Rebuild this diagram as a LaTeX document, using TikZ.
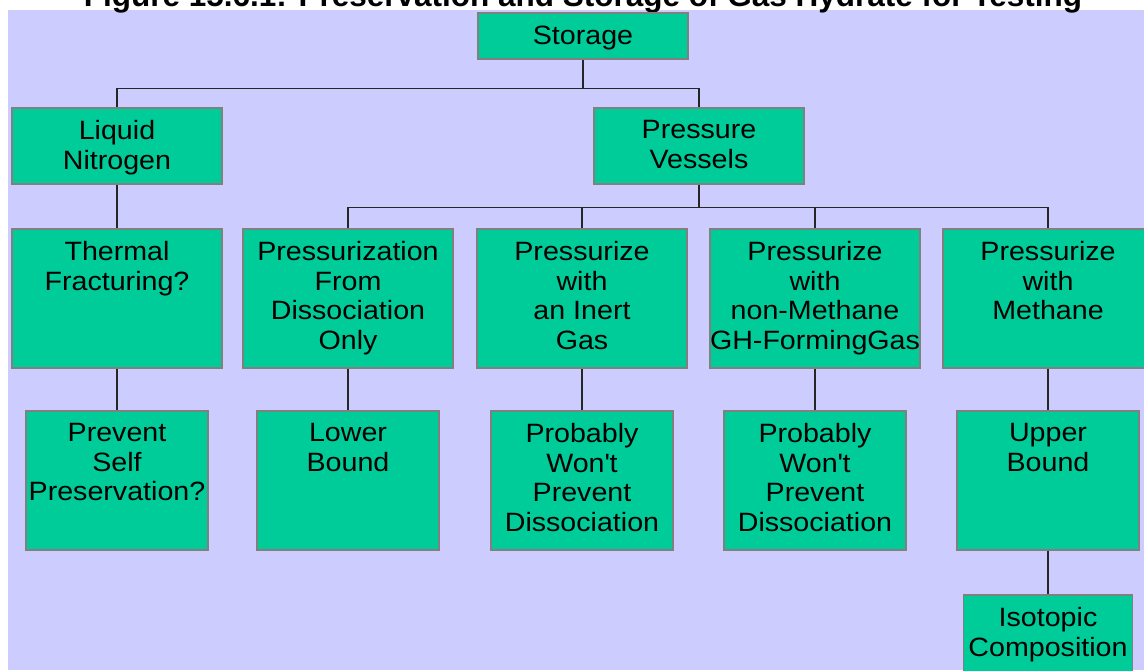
\documentclass[tikz,border=0pt]{standalone}
\usepackage{fontspec}
\setmainfont{Liberation Sans}
\newfontfamily\boxfont[FakeStretch=1.08]{Liberation Sans}
\usetikzlibrary{positioning}

\definecolor{lavender}{HTML}{CCCCFF}
\definecolor{boxgreen}{HTML}{00CC99}
\definecolor{boxedge}{HTML}{808080}

\tikzset{
  gbox/.style={draw=boxedge, line width=1.5pt, fill=boxgreen, inner sep=0pt, anchor=north},
  gtext/.style={align=center, inner sep=0pt, font=\boxfont\fontsize{26.5}{29.5}\selectfont},
  link/.style={line width=1.3pt, black!85}
}

% box: name, x, top, width, height, text
\newcommand{\gbox}[6]{%
  \node[gbox, minimum width=#4pt, minimum height=#5pt] (#1) at (#2,#3) {};
  \node[gtext, below=13.5pt of #1.north] (#1-txt) {#6};
}

\begin{document}
\begin{tikzpicture}[x=1pt, y=-1pt]
  \useasboundingbox (0,0) rectangle (1144,670);
  \fill[white] (0,0) rectangle (1144,670);
  \fill[lavender] (8,10) rectangle (1144,670);

  % title (cut by the page)
  \node[font=\bfseries\fontsize{31.5}{33}\selectfont, anchor=base, inner sep=0pt] (title) at (583,6)
    {Figure 15.6.1: Preservation and Storage of Gas Hydrate for Testing};

  % top
  \gbox{storage}{583}{12}{210}{46}{Storage}

  % level 1
  \gbox{nitro}{117}{107}{210}{76}{Liquid\\Nitrogen}
  \gbox{vessels}{699}{107}{210}{76}{Pressure\\Vessels}

  % level 2
  \gbox{thermal}{117}{228}{210}{139}{Thermal\\Fracturing?}
  \gbox{frdiss}{348}{228}{210}{139}{Pressurization\\From\\Dissociation\\Only}
  \gbox{inert}{582}{228}{210}{139}{Pressurize\\with\\an Inert\\Gas}
  \gbox{nonmeth}{815}{228}{210}{139}{Pressurize\\with\\non-Methane\\GH-FormingGas}
  \gbox{methane}{1048}{228}{210}{139}{Pressurize\\with\\Methane}

  % level 3
  \gbox{prevent}{117}{410}{182}{139}{Prevent\\Self\\Preservation?}
  \gbox{lower}{348}{410}{182}{139}{Lower\\Bound}
  \gbox{probA}{582}{410}{182}{139}{Probably\\Won\textquotesingle t\\Prevent\\Dissociation}
  \gbox{probB}{815}{410}{182}{139}{Probably\\Won\textquotesingle t\\Prevent\\Dissociation}
  \gbox{upper}{1048}{410}{182}{139}{Upper\\Bound}

  % level 4
  \gbox{isotope}{1048}{594}{169}{84}{Isotopic\\Composition}

  % connectors
  \coordinate (bar1) at ([yshift=-29pt]storage.south);
  \draw[link] (storage.south) -- (bar1);
  \draw[link] (nitro.north) |- (bar1) -| (vessels.north);

  \coordinate (bar2) at ([yshift=-23pt]vessels.south);
  \draw[link] (vessels.south) -- (bar2);
  \draw[link] (frdiss.north) |- (bar2) -| (methane.north);
  \draw[link] (inert.north) -- (inert.north |- bar2);
  \draw[link] (nonmeth.north) -- (nonmeth.north |- bar2);

  \foreach \a/\b in {nitro/thermal, thermal/prevent, frdiss/lower, inert/probA,
                     nonmeth/probB, methane/upper, upper/isotope}
    \draw[link] (\a.south) -- (\b.north);
\end{tikzpicture}
\end{document}
